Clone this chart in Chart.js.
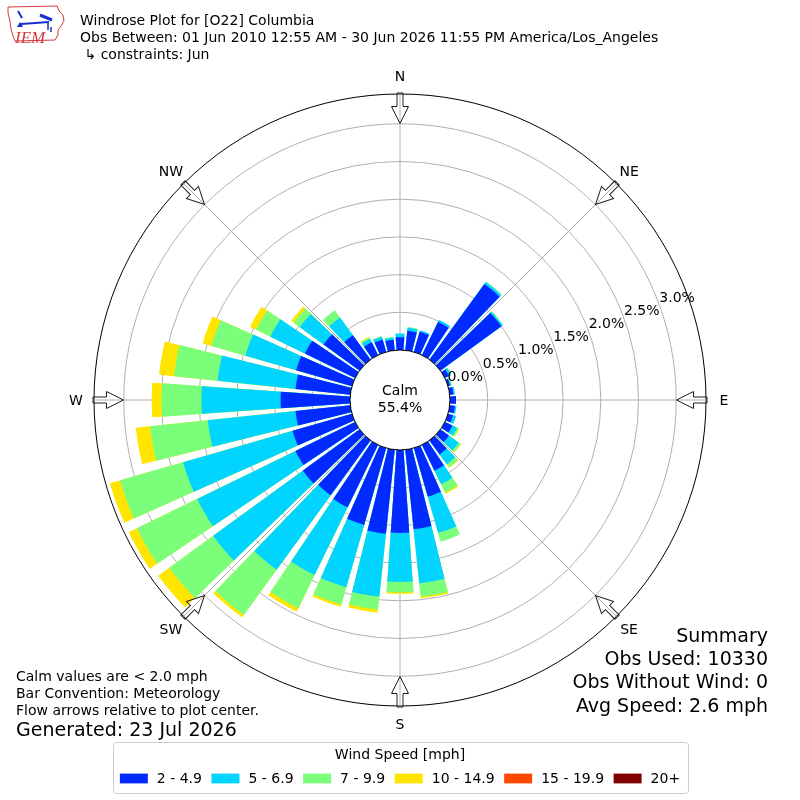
<!DOCTYPE html>
<html>
<head>
<meta charset="utf-8">
<script src="https://cdn.jsdelivr.net/npm/chart.js@4/dist/chart.umd.min.js"></script>
<style>
html,body{margin:0;padding:0;background:#fff;}
#wrap{position:relative;width:800px;height:800px;overflow:hidden;font-family:'DejaVu Sans',sans-serif;color:#000;}
#c{position:absolute;left:0;top:0;}
.txt{position:absolute;white-space:pre;}
</style>
</head>
<body>
<div id="wrap">
<canvas id="c" width="800" height="800"></canvas>
<div class="txt" style="left:80px;top:11.7px;font-size:14px;line-height:17px">Windrose Plot for [O22] Columbia
Obs Between: 01 Jun 2010 12:55 AM - 30 Jun 2026 11:55 PM America/Los_Angeles
 ↳ constraints: Jun</div>
<div class="txt" style="left:16px;top:667.7px;font-size:14px;line-height:17px">Calm values are &lt; 2.0 mph
Bar Convention: Meteorology
Flow arrows relative to plot center.</div>
<div class="txt" style="left:16px;top:718px;font-size:19px;line-height:23px">Generated: 23 Jul 2026</div>
<div class="txt" style="right:32px;top:623.8px;font-size:19px;line-height:23.3px;text-align:right">Summary
Obs Used: 10330
Obs Without Wind: 0
Avg Speed: 2.6 mph</div>
</div>
<script>
// ---- data (percent of observations) ----
const directions = [0,10,20,30,40,50,60,70,80,90,100,110,120,130,140,150,160,170,180,190,200,210,220,230,240,250,260,270,280,290,300,310,320,330,340,350];
const speedBins = ['2 - 4.9','5 - 6.9','7 - 9.9','10 - 14.9','15 - 19.9','20+'];
const pct2to5   = [0.17,0.26,0.28,0.49,1.24,1.00,0.06,0.03,0.05,0.08,0.07,0.07,0.11,0.14,0.23,0.38,0.67,1.06,1.10,1.12,1.06,0.92,0.90,0.93,0.88,0.82,0.73,0.92,0.73,0.77,0.74,0.59,0.40,0.19,0.17,0.14];
const pct5to7   = [0.05,0.04,0.02,0.03,0.03,0.02,0.03,0.01,0.02,0.00,0.02,0.04,0.07,0.16,0.16,0.20,0.50,0.72,0.65,0.84,0.86,1.00,1.22,1.47,1.45,1.51,1.17,1.05,1.04,0.70,0.51,0.39,0.29,0.05,0.04,0.03];
const pct7to10  = [0.00,0.01,0.00,0.00,0.01,0.01,0.01,0.01,0.00,0.00,0.00,0.00,0.02,0.03,0.05,0.12,0.12,0.18,0.14,0.17,0.24,0.49,0.74,0.72,0.89,0.87,0.77,0.53,0.58,0.47,0.21,0.10,0.12,0.02,0.01,0.01];
const pct10to15 = [0,0,0,0,0,0,0,0.005,0,0,0,0,0.01,0.01,0.01,0.02,0,0.02,0.02,0.04,0.03,0.05,0.04,0.18,0.12,0.14,0.19,0.13,0.20,0.12,0.09,0.04,0,0.01,0,0];
const pct15to20 = [0,0,0,0,0,0,0,0,0,0,0,0,0,0,0,0,0,0,0,0,0,0,0,0,0,0,0,0,0,0,0,0,0,0,0,0];
const pct20plus = [0,0,0,0,0,0,0,0,0,0,0,0,0,0,0,0,0,0,0,0,0,0,0,0,0,0,0,0,0,0,0,0,0,0,0,0];
const ringTicks = [0,0.5,1.0,1.5,2.0,2.5,3.0];
const compassLabels = ['N','NE','E','SE','S','SW','W','NW'];
const calmPct = 55.4;

// ---- style ----
const binColors = ['#002aff','#00d4ff','#7bff7b','#ffe500','#ff4800','#800000'];
const R_MIN = -0.663;   // radial origin offset (calm circle)
const R_MAX = 3.395;
const BAR_DEG = 8, GAP_DEG = 2;

// slots: bar for direction k (N split in two halves so bars are centred on their direction)
const slots = [{d:0, a:BAR_DEG/2}, {d:-1, a:GAP_DEG}];
for (let k = 1; k < directions.length; k++) { slots.push({d:k, a:BAR_DEG}); slots.push({d:-1, a:GAP_DEG}); }
slots.push({d:0, a:BAR_DEG/2});

const binSeries = [pct2to5, pct5to7, pct7to10, pct10to15, pct15to20, pct20plus];
const cumulative = [];
binSeries.forEach((ser, b) => {
  cumulative.push(ser.map((v, k) => (b ? cumulative[b-1][k] : 0) + v));
});

const datasets = binSeries.map((ser, b) => ({
  label: speedBins[b],
  data: slots.map(s => s.d < 0 ? 0 : cumulative[b][s.d]),
  backgroundColor: slots.map(s => (s.d < 0 || ser[s.d] <= 0) ? 'rgba(0,0,0,0)' : binColors[b]),
  borderWidth: 0,
  angle: ctx => slots[ctx.dataIndex].a
}));

const FONT = "14px 'DejaVu Sans', sans-serif";

const overlay = {
  id: 'overlay',
  afterDraw(chart) {
    const c = chart.ctx, s = chart.scales.r;
    const cx = s.xCenter, cy = s.yCenter, R = s.drawingArea;
    c.save();
    // calm circle
    const r0 = s.getDistanceFromCenterForValue(0);
    c.beginPath(); c.arc(cx, cy, r0, 0, 2*Math.PI);
    c.fillStyle = '#fff'; c.fill();
    c.lineWidth = 1; c.strokeStyle = '#000'; c.stroke();
    c.fillStyle = '#000'; c.font = FONT; c.textAlign = 'center'; c.textBaseline = 'alphabetic';
    c.fillText('Calm', cx, cy - 5);
    c.fillText(calmPct.toFixed(1) + '%', cx, cy + 11.7);
    // radial tick labels
    const la = (69.5 - 90) * Math.PI / 180;
    ringTicks.forEach(v => {
      const d = s.getDistanceFromCenterForValue(v) + 19.6;
      c.fillText(v.toFixed(1) + '%', cx + d*Math.cos(la), cy + d*Math.sin(la) + 5.1);
    });
    // flow arrows + compass labels
    compassLabels.forEach((lab, i) => {
      const a = s.getIndexAngle(i) - Math.PI/2;
      c.save(); c.translate(cx, cy); c.rotate(a);
      const tip = R - 29.5, hb = R - 12.5, end = R + 1;
      c.beginPath();
      c.moveTo(tip, 0); c.lineTo(hb, 8.5); c.lineTo(hb, 3); c.lineTo(end, 3);
      c.lineTo(end, -3); c.lineTo(hb, -3); c.lineTo(hb, -8.5); c.closePath();
      c.lineWidth = 1; c.strokeStyle = '#222'; c.stroke();
      c.restore();
      const d = R + 18;
      c.fillStyle = '#000';
      c.fillText(lab, cx + d*Math.cos(a), cy + d*Math.sin(a) + 5.1);
    });
    // legend
    const ds = chart.data.datasets;
    c.font = FONT;
    const BOXW = 28, BOXH = 9.8, PAD = 9, COLSP = 9.5;
    const widths = ds.map(d => c.measureText(d.label).width);
    const total = ds.length*(BOXW+PAD) + widths.reduce((p,q)=>p+q,0) + (ds.length-1)*COLSP;
    c.beginPath(); c.roundRect(113.5, 742.5, 575, 51, 3);
    c.fillStyle = 'rgba(255,255,255,0.8)'; c.fill();
    c.strokeStyle = '#cccccc'; c.lineWidth = 1; c.stroke();
    c.fillStyle = '#000'; c.textAlign = 'center';
    c.fillText('Wind Speed [mph]', cx, 758.5);
    c.textAlign = 'left';
    let x = cx - total/2;
    ds.forEach((d, i) => {
      c.fillStyle = binColors[i]; c.fillRect(x, 773.6, BOXW, BOXH);
      x += BOXW + PAD;
      c.fillStyle = '#000'; c.fillText(d.label, x, 783);
      x += widths[i] + COLSP;
    });
    // logo
    c.strokeStyle = '#d23a3a'; c.lineWidth = 1;
    c.beginPath();
    const iowa = [[8,7],[57,6],[59,11],[63,15],[64,21],[61,26],[58,30],[58,35],[55,40],[15,41],[13,36],[11,29],[10,21],[8,13]];
    iowa.forEach((p, j) => j ? c.lineTo(p[0], p[1]) : c.moveTo(p[0], p[1]));
    c.closePath(); c.stroke();
    c.strokeStyle = '#1a2fd0'; c.fillStyle = '#1a2fd0'; c.lineWidth = 2;
    c.beginPath(); c.moveTo(21, 24); c.lineTo(49, 22); c.stroke();
    c.beginPath(); c.moveTo(18, 11); c.lineTo(22, 18); c.stroke();
    c.lineWidth = 3;
    c.beginPath(); c.moveTo(40, 15); c.lineTo(52, 20); c.stroke();
    c.lineWidth = 1.5;
    c.beginPath(); c.moveTo(48, 22); c.lineTo(48, 30); c.moveTo(51, 27); c.lineTo(51, 32); c.stroke();
    c.beginPath(); c.moveTo(17, 27); c.lineTo(20, 22); c.lineTo(23, 27); c.closePath(); c.fill();
    c.fillStyle = '#d23a3a'; c.font = "italic 17px 'Liberation Serif', serif"; c.textAlign = 'left';
    c.fillText('IEM', 15, 43);
    c.restore();
  }
};

new Chart(document.getElementById('c'), {
  type: 'polarArea',
  data: { labels: compassLabels, datasets },
  options: {
    responsive: false,
    animation: false,
    devicePixelRatio: 1,
    layout: { padding: 94 },
    plugins: { legend: { display: false }, tooltip: { enabled: false } },
    elements: { arc: { borderWidth: 0 } },
    scales: {
      r: {
        min: R_MIN, max: R_MAX, startAngle: 0, z: 1,
        ticks: { display: false },
        afterBuildTicks: sc => { sc.ticks = ringTicks.concat([R_MAX]).map(v => ({ value: v })); },
        grid: {
          circular: true,
          color: ctx => (ctx.tick && ctx.tick.value >= R_MAX - 1e-9) ? '#000000' : '#b0b0b0',
          lineWidth: 1
        },
        angleLines: { display: true, color: '#b0b0b0', lineWidth: 1 },
        pointLabels: { display: false }
      }
    }
  },
  plugins: [overlay]
});
</script>
</body>
</html>
